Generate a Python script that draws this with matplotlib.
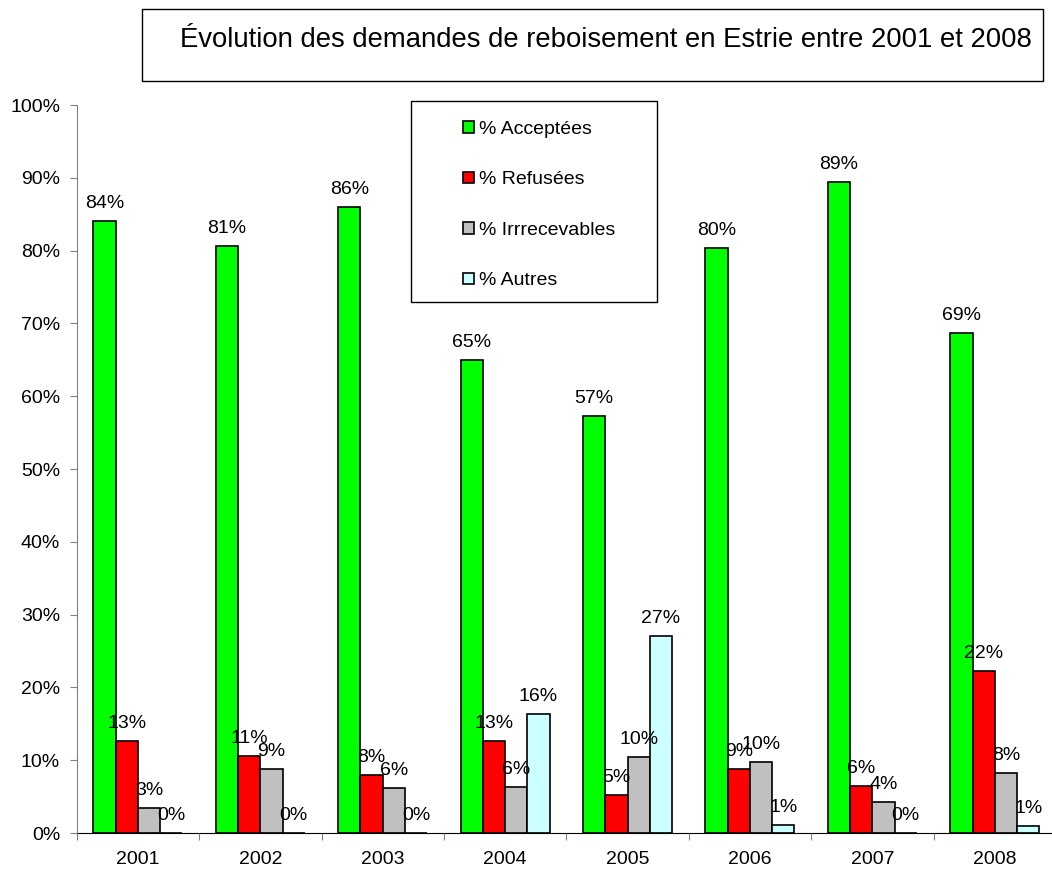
import numpy as np
import matplotlib
matplotlib.use('Agg')
import matplotlib.pyplot as plt
from matplotlib.patches import Rectangle

plt.rcParams['font.family'] = ['Liberation Sans', 'DejaVu Sans']

# Data (percent)
years = ['2001', '2002', '2003', '2004', '2005', '2006', '2007', '2008']
acceptees = [84.1, 80.6, 86.0, 65.0, 57.3, 80.4, 89.4, 68.7]
refusees = [12.6, 10.6, 7.9, 12.6, 5.2, 8.8, 6.4, 22.2]
irrecevables = [3.4, 8.8, 6.2, 6.3, 10.4, 9.8, 4.2, 8.3]
autres = [0.0, 0.0, 0.0, 16.4, 27.1, 1.1, 0.0, 0.9]

series_names = ['% Acceptées', '% Refusées', '% Irrrecevables', '% Autres']
series_colors = ['#00FF00', '#FF0000', '#C0C0C0', '#CCFFFF']
series = [acceptees, refusees, irrecevables, autres]

W, H = 1052, 871
fig = plt.figure(figsize=(W / 100, H / 100), dpi=100)

# axes placed in pixel terms of the reference
left, right, top, bottom = 76.7, 1056.0, 105.0, 833.0
ax = fig.add_axes([left / W, 1 - bottom / H, (right - left) / W, (bottom - top) / H])

x = np.arange(len(years))
w = 1 / 5.5
handles = []
for i, (vals, name, col) in enumerate(zip(series, series_names, series_colors)):
    bars = ax.bar(x + (i - 1.5) * w, vals, width=w, color=col, edgecolor='black',
                  linewidth=1.2, label=name)
    ax.bar_label(bars, labels=[f'{v:.0f}%' for v in vals], padding=6.5, fontsize=14)
    handles.append(bars)

ax.set_xlim(-0.5, len(years) - 0.5)
ax.set_ylim(0, 100)
ax.set_yticks(np.arange(0, 101, 10))
ax.set_yticklabels([f'{t}%' for t in range(0, 101, 10)], fontsize=14)
ax.set_xticks(np.arange(-0.5, len(years) - 0.4, 1))
ax.set_xticklabels([])
ax.set_xticks(x, minor=True)
ax.set_xticklabels(years, minor=True, fontsize=14)
ax.tick_params(axis='x', which='major', direction='out', length=5, color='#808080')
ax.tick_params(axis='x', which='minor', length=0, pad=13)
ax.tick_params(axis='y', direction='out', length=5, color='#808080', pad=7)

ax.spines['top'].set_visible(False)
ax.spines['right'].set_visible(False)
ax.spines['left'].set_color('#808080')
ax.spines['bottom'].set_color('black')
ax.set_axisbelow(False)

# title box
fig.patches.append(Rectangle((141.7 / W, 1 - 81 / H), (1042.7 - 141.7) / W, (81 - 9) / H,
                             transform=fig.transFigure, fill=False, edgecolor='black',
                             linewidth=1.0))
fig.text(606 / W, 1 - 47 / H, 'Évolution des demandes de reboisement en Estrie entre 2001 et 2008',
         ha='center', va='baseline', fontsize=19.8)

# legend box
fig.patches.append(Rectangle((411 / W, 1 - 302.3 / H), (656.7 - 411) / W, (302.3 - 101) / H,
                             transform=fig.transFigure, fill=True, facecolor='white',
                             edgecolor='black', linewidth=1.0, zorder=5))
leg = fig.legend(handles=handles, loc='upper left', bbox_to_anchor=(463 / W, 1 - 121 / H),
                 frameon=False, fontsize=14, handlelength=0.55, handleheight=0.55,
                 handletextpad=0.25, labelspacing=1.72, borderaxespad=0, borderpad=0)
leg.set_zorder(6)

fig.savefig('out.png', dpi=100)
